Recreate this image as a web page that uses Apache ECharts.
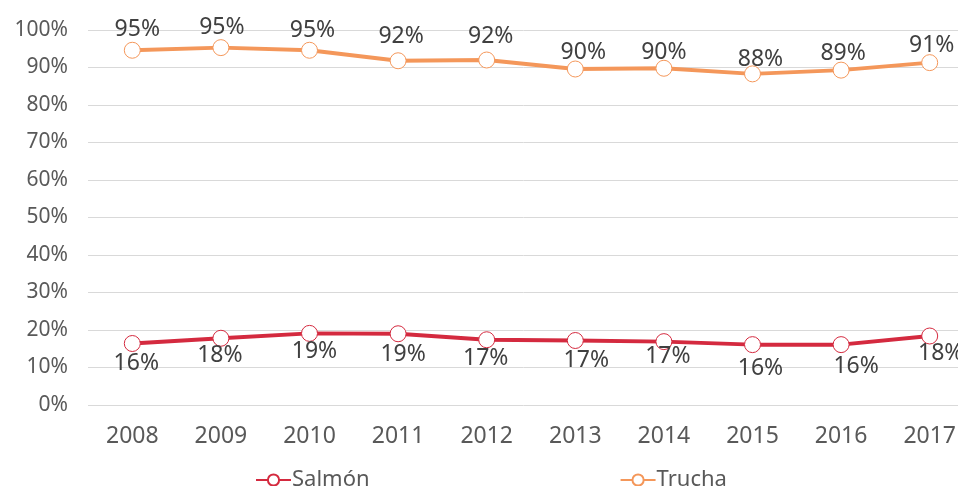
<!DOCTYPE html>
<html>
<head>
<meta charset="utf-8">
<script src="https://cdn.jsdelivr.net/npm/echarts@6/dist/echarts.min.js"></script>
<style>
  html, body { margin: 0; padding: 0; background: #fff; }
  #chart { width: 958px; height: 486px; }
</style>
</head>
<body>
<div id="chart"></div>
<script>
const years = ['2008', '2009', '2010', '2011', '2012', '2013', '2014', '2015', '2016', '2017']
const salmon = [16.4, 17.8, 19.1, 19.0, 17.4, 17.2, 16.9, 16.1, 16.1, 18.4]
const trucha = [94.6, 95.3, 94.6, 91.8, 92.0, 89.6, 89.8, 88.3, 89.3, 91.3]

// hand-placed label nudges from the source chart (px, relative to the point)
const salmonLabelDx = [4, -1, 5, 5, -1, 11, 4, 8, 15, 11]
const salmonLabelDy = [20, 17, 18, 21, 19, 20, 15, 24, 22, 17]
const truchaLabelDx = [5, 1, 3, 3, 4, 8, 0, 8, 2, 2]
const truchaLabelDy = [-21, -20, -20, -24, -24, -17, -16, -14, -17, -17]

const font = 'Noto Sans'
const labelColor = '#404040'
const axisColor = '#595959'

const chart = echarts.init(document.getElementById('chart'))

function lineSeries(name, values, dx, dy, color) {
  return {
    name: name,
    type: 'line',
    data: values.map((v, i) => ({ value: v, label: { offset: [dx[i], dy[i]] } })),
    symbol: 'circle',
    symbolSize: 16,
    lineStyle: { color: color, width: 4 },
    itemStyle: { color: '#fff', borderColor: color, borderWidth: 1 },
    label: {
      show: true,
      position: 'inside',
      color: labelColor,
      fontFamily: font,
      fontSize: 23,
      formatter: p => Math.round(p.value) + '%'
    },
    emphasis: { disabled: true }
  }
}

chart.setOption({
  animation: false,
  color: ['#D42A3F', '#F4975A'],
  // the source chart is cut at the right edge, so the grid runs past the canvas
  grid: { left: 88, width: 886, top: 30, height: 375, outerBoundsMode: 'none', containLabel: false },
  legend: {
    top: 464,
    left: 250,
    itemGap: 250,
    itemWidth: 35,
    itemHeight: 14,
    textStyle: { color: axisColor, fontFamily: font, fontSize: 22, padding: [0, 0, 0, -4] },
    data: ['Salmón', 'Trucha']
  },
  xAxis: {
    type: 'category',
    data: years,
    axisLine: { show: false },
    axisTick: { show: false },
    axisLabel: { color: axisColor, fontFamily: font, fontSize: 23, margin: 20 }
  },
  yAxis: {
    type: 'value',
    min: 0,
    max: 100,
    interval: 10,
    axisLine: { show: false },
    axisTick: { show: false },
    splitLine: { lineStyle: { color: '#d9d9d9', width: 1 } },
    axisLabel: { color: axisColor, fontFamily: font, fontSize: 21, margin: 20, formatter: '{value}%' }
  },
  series: [
    lineSeries('Salmón', salmon, salmonLabelDx, salmonLabelDy, '#D42A3F'),
    lineSeries('Trucha', trucha, truchaLabelDx, truchaLabelDy, '#F4975A')
  ]
})
</script>
</body>
</html>
